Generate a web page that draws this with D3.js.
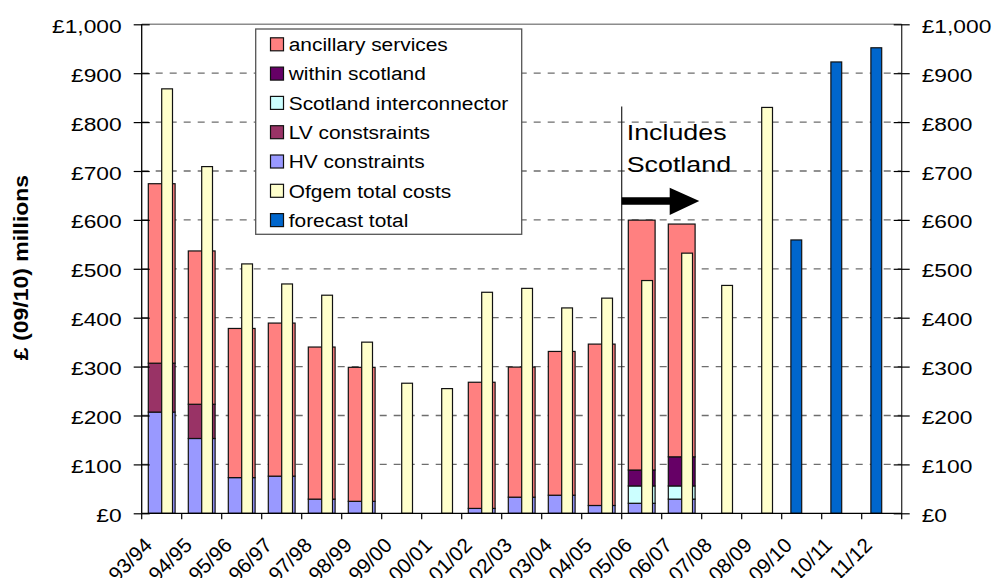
<!DOCTYPE html>
<html>
<head>
<meta charset="utf-8">
<script src="https://cdn.jsdelivr.net/npm/d3@7"></script>
<style>
  html, body { margin: 0; padding: 0; background: #fff; }
  svg { display: block; font-family: "Liberation Sans", Arial, sans-serif; }
</style>
</head>
<body>
<svg id="chart" width="996" height="578"></svg>
<script>
// Financial years on the category axis
const categories = ["93/94","94/95","95/96","96/97","97/98","98/99","99/00","00/01","01/02","02/03",
                    "03/04","04/05","05/06","06/07","07/08","08/09","09/10","10/11","11/12"];

// Stacked cost components, £m (09/10 prices)
const hvConstraints   = [207, 153, 73, 76, 29, 24.5, 0, 0, 10, 33, 37, 16, 20.5, 29, 0, 0, 0, 0, 0];
const lvConstraints   = [100, 70, 0, 0, 0, 0, 0, 0, 0, 0, 0, 0, 0, 0, 0, 0, 0, 0, 0];
const interconnector  = [0, 0, 0, 0, 0, 0, 0, 0, 0, 0, 0, 0, 35.5, 27, 0, 0, 0, 0, 0];
const withinScotland  = [0, 0, 0, 0, 0, 0, 0, 0, 0, 0, 0, 0, 32.5, 59.5, 0, 0, 0, 0, 0];
const ancillary       = [367, 313.5, 305, 313, 311, 274, 0, 0, 258, 266, 294, 330, 511, 476, 0, 0, 0, 0, 0];

// Ofgem total costs and forecast totals, £m
const ofgemTotal    = [868, 709, 510, 469, 446, 350, 266, 255, 452, 460, 420, 440, 476, 532, 466, 830, null, null, null];
const forecastTotal = [null, null, null, null, null, null, null, null, null, null, null, null, null, null, null, null, 559, 923, 952];

const yTicks = [0, 100, 200, 300, 400, 500, 600, 700, 800, 900, 1000];

const legendItems = [
  { label: "ancillary services",        color: "#FF8080" },
  { label: "within scotland",           color: "#660066" },
  { label: "Scotland interconnector",   color: "#CCFFFF" },
  { label: "LV constsraints",           color: "#993366" },
  { label: "HV constraints",            color: "#9999FF" },
  { label: "Ofgem total costs",         color: "#FFFFCC" },
  { label: "forecast total",            color: "#0066CC" }
];

const stackKeys = ["hv", "lv", "inter", "within", "anc"];
const stackColors = { hv: "#9999FF", lv: "#993366", inter: "#CCFFFF", within: "#660066", anc: "#FF8080" };

const rows = categories.map((c, i) => ({
  cat: c, hv: hvConstraints[i], lv: lvConstraints[i], inter: interconnector[i],
  within: withinScotland[i], anc: ancillary[i]
}));

const svg = d3.select("#chart");
const plotLeft = 141.7, plotRight = 901.7, plotTop = 24.3, plotBottom = 513.3;

const x = d3.scaleBand().domain(categories).range([plotLeft, plotRight]).padding(0);
const y = d3.scaleLinear().domain([0, 1000]).range([plotBottom, plotTop]);
const bw = x.bandwidth();
const fmt = v => "£" + d3.format(",")(v);

// Gridlines
svg.append("g").selectAll("line")
  .data(yTicks.filter(v => v > 0 && v < 1000))
  .join("line")
  .attr("x1", plotLeft).attr("x2", plotRight)
  .attr("y1", d => y(d)).attr("y2", d => y(d))
  .attr("stroke", "#6e6e6e").attr("stroke-width", 1.3)
  .attr("stroke-dasharray", "7,7");
svg.append("line")
  .attr("x1", plotLeft).attr("x2", plotRight).attr("y1", y(1000)).attr("y2", y(1000))
  .attr("stroke", "#8c8c8c").attr("stroke-width", 1.5);

// Stacked columns
const series = d3.stack().keys(stackKeys)(rows);
svg.append("g").selectAll("g")
  .data(series)
  .join("g")
  .attr("fill", d => stackColors[d.key])
  .selectAll("rect")
  .data(d => d.filter(s => s[1] - s[0] > 0))
  .join("rect")
  .attr("x", d => x(d.data.cat) + bw * 0.165)
  .attr("width", bw * 0.67)
  .attr("y", d => y(d[1]))
  .attr("height", d => y(d[0]) - y(d[1]))
  .attr("stroke", "#111").attr("stroke-width", 1.2);

// Ofgem totals
svg.append("g").selectAll("rect")
  .data(categories.map((c, i) => ({ cat: c, v: ofgemTotal[i] })).filter(d => d.v != null))
  .join("rect")
  .attr("x", d => x(d.cat) + bw / 2)
  .attr("width", bw * 0.27)
  .attr("y", d => y(d.v))
  .attr("height", d => y(0) - y(d.v))
  .attr("fill", "#FFFFCC").attr("stroke", "#111").attr("stroke-width", 1.2);

// Forecast totals
svg.append("g").selectAll("rect")
  .data(categories.map((c, i) => ({ cat: c, v: forecastTotal[i] })).filter(d => d.v != null))
  .join("rect")
  .attr("x", d => x(d.cat) + bw / 2 - bw * 0.27)
  .attr("width", bw * 0.27)
  .attr("y", d => y(d.v))
  .attr("height", d => y(0) - y(d.v))
  .attr("fill", "#0066CC").attr("stroke", "#111").attr("stroke-width", 1.2);

// Left value axis
const leftAxis = svg.append("g").attr("transform", `translate(${plotLeft},0)`)
  .call(d3.axisLeft(y).tickValues(yTicks).tickSize(8).tickPadding(0).tickFormat(fmt));
leftAxis.select(".domain").attr("stroke", "#000").attr("stroke-width", 1.3).attr("d", `M0,${plotTop}V${plotBottom}`);
leftAxis.selectAll(".tick line").attr("x1", -8).attr("x2", 8).attr("stroke", "#000").attr("stroke-width", 1.2);
leftAxis.selectAll(".tick text")
  .attr("x", null).attr("dy", null)
  .attr("transform", "translate(-20,8) scale(1.2,1)")
  .attr("text-anchor", "end").attr("font-size", 19).attr("fill", "#000")
  .attr("font-family", "'Liberation Sans', Arial, sans-serif");

// Right value axis
const rightAxis = svg.append("g").attr("transform", `translate(${plotRight},0)`)
  .call(d3.axisRight(y).tickValues(yTicks).tickSize(8).tickPadding(0).tickFormat(fmt));
rightAxis.select(".domain").attr("stroke", "#333").attr("stroke-width", 1.3).attr("d", `M0,${plotTop}V${plotBottom}`);
rightAxis.selectAll(".tick line").attr("x1", -8).attr("x2", 8).attr("stroke", "#000").attr("stroke-width", 1.2);
rightAxis.selectAll(".tick text")
  .attr("x", null).attr("dy", null)
  .attr("transform", "translate(20,8) scale(1.2,1)")
  .attr("text-anchor", "start").attr("font-size", 19).attr("fill", "#000")
  .attr("font-family", "'Liberation Sans', Arial, sans-serif");

// Category axis: ticks on band edges, labels slanted under each band
const xAxis = svg.append("g");
xAxis.append("line").attr("x1", plotLeft).attr("x2", plotRight).attr("y1", plotBottom).attr("y2", plotBottom)
  .attr("stroke", "#000").attr("stroke-width", 1.3);
xAxis.selectAll("line.tk")
  .data(categories.concat(["end"]))
  .join("line").attr("class", "tk")
  .attr("x1", (d, i) => plotLeft + i * bw).attr("x2", (d, i) => plotLeft + i * bw)
  .attr("y1", plotBottom).attr("y2", plotBottom + 6)
  .attr("stroke", "#000").attr("stroke-width", 1.2);
xAxis.selectAll("text")
  .data(categories)
  .join("text")
  .attr("transform", d => `translate(${x(d) + bw / 2 - 8.5},546.5) rotate(-45)`)
  .attr("text-anchor", "end")
  .attr("font-size", 20.5).attr("fill", "#000")
  .text(d => d);

// Y axis title
svg.append("text")
  .attr("transform", "translate(28,267.5) rotate(-90) scale(1.15,1)")
  .attr("text-anchor", "middle")
  .attr("font-size", 20).attr("font-weight", "bold").attr("fill", "#000")
  .text("£ (09/10) millions");

// "Includes Scotland" marker from 05/06 onwards
const markX = x("05/06");
svg.append("line").attr("x1", markX).attr("x2", markX).attr("y1", 106.5).attr("y2", plotBottom)
  .attr("stroke", "#222").attr("stroke-width", 1.2);
svg.append("text").attr("transform", `translate(${markX + 5},139.5) scale(1.22,1)`)
  .attr("font-size", 22).attr("fill", "#000").text("Includes");
svg.append("text").attr("transform", `translate(${markX + 5},171.5) scale(1.22,1)`)
  .attr("font-size", 22).attr("fill", "#000").text("Scotland");
svg.append("path")
  .attr("d", `M${markX},197.3H${markX + 48}V187.7L${markX + 77.6},201L${markX + 48},215V204.7H${markX}Z`)
  .attr("fill", "#000");

// Legend
const lg = svg.append("g");
lg.append("rect").attr("x", 255.7).attr("y", 29).attr("width", 266).attr("height", 205.3)
  .attr("fill", "#fff").attr("stroke", "#555").attr("stroke-width", 1.3);
const li = lg.selectAll("g.item").data(legendItems).join("g").attr("class", "item")
  .attr("transform", (d, i) => `translate(0,${44.3 + i * 29.3})`);
li.append("rect").attr("x", 270.5).attr("y", -6.5).attr("width", 13).attr("height", 13)
  .attr("fill", d => d.color).attr("stroke", "#111").attr("stroke-width", 1.2);
li.append("text").attr("transform", "translate(288.7,6.8) scale(1.1,1)")
  .attr("font-size", 19).attr("fill", "#000").text(d => d.label);
</script>
</body>
</html>
